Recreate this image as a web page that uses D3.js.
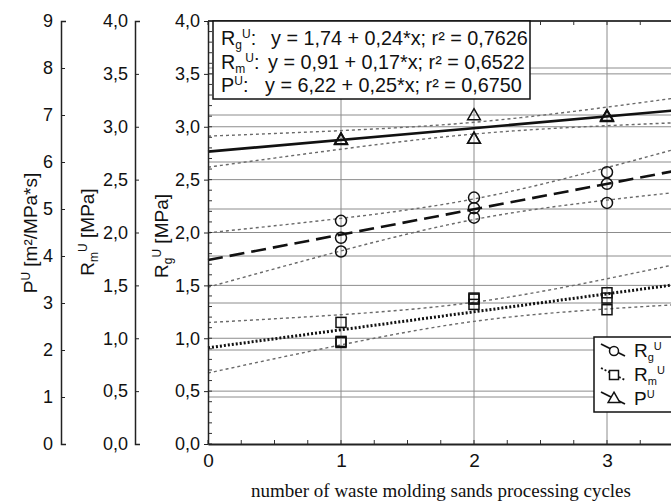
<!DOCTYPE html>
<html>
<head>
<meta charset="utf-8">
<script src="https://cdn.jsdelivr.net/npm/d3@7"></script>
<style>
  body { margin: 0; background: #fff; }
  svg { display: block; overflow: hidden; }
  text { font-family: "Liberation Sans", Arial, sans-serif; fill: #111; }
</style>
</head>
<body>
<script>
// measured points: 3 samples per processing cycle
const cycles = [1, 1, 1, 2, 2, 2, 3, 3, 3];
const rgValues = [2.11, 1.95, 1.82, 2.33, 2.23, 2.14, 2.57, 2.46, 2.28];
const rmValues = [1.15, 0.97, 0.96, 1.38, 1.37, 1.32, 1.43, 1.38, 1.27];
const pValues = [6.47, 6.48, 6.49, 7.0, 6.5, 6.5, 6.96, 6.97, 6.98];

// fitted lines as printed on the chart (Rg, Rm, P)
const intercepts = [1.74, 0.91, 6.22];
const slopes = [0.24, 0.17, 0.25];
const rSquared = ["0,7626", "0,6522", "0,6750"];

const xTicks = [0, 1, 2, 3];
const rTicks = [0, 0.5, 1, 1.5, 2, 2.5, 3, 3.5, 4];
const pTicks = [0, 1, 2, 3, 4, 5, 6, 7, 8, 9];

const width = 671, height = 503;
const plotLeft = 208, plotTop = 21, plotBottom = 444;

const svg = d3.select("body").append("svg")
    .attr("width", width)
    .attr("height", height);

// scales (x runs past the right edge, the picture is cropped there)
const x = d3.scaleLinear().domain([0, 4]).range([plotLeft, plotLeft + 4 * 133]);
const y = d3.scaleLinear().domain([0, 4]).range([plotBottom, plotTop]);
const yP = d3.scaleLinear().domain([0, 9]).range([plotBottom, plotTop]);

const comma = v => d3.format(".1f")(v).replace(".", ",");
const comma2 = v => d3.format(".2f")(v).replace(".", ",");

// grid
const grid = svg.append("g").attr("stroke", "#8c8c8c").attr("stroke-width", 1);
grid.selectAll(".gr").data(rTicks.slice(1)).enter().append("line")
    .attr("x1", plotLeft).attr("x2", width)
    .attr("y1", d => y(d)).attr("y2", d => y(d));
grid.selectAll(".gp").data(pTicks.slice(1, -1)).enter().append("line")
    .attr("x1", plotLeft).attr("x2", width)
    .attr("y1", d => yP(d)).attr("y2", d => yP(d));
grid.selectAll(".gx").data(xTicks.slice(1)).enter().append("line")
    .attr("x1", d => x(d)).attr("x2", d => x(d))
    .attr("y1", plotTop).attr("y2", plotBottom);

// 95% confidence band of the fitted mean
const tCrit = 2.365;
function band(values, b0, b1, sign) {
    const n = values.length;
    const xm = d3.mean(cycles);
    const sxx = d3.sum(cycles, c => (c - xm) * (c - xm));
    const sse = d3.sum(values, (v, i) => Math.pow(v - (b0 + b1 * cycles[i]), 2));
    const s = Math.sqrt(sse / (n - 2));
    return d3.range(0, 4.001, 0.05).map(xx => [xx,
        b0 + b1 * xx + sign * tCrit * s * Math.sqrt(1 / n + (xx - xm) * (xx - xm) / sxx)]);
}

const series = [
    { values: rgValues, scale: y, dash: "15,7", width: 2.6 },
    { values: rmValues, scale: y, dash: "2,2", width: 3 },
    { values: pValues, scale: yP, dash: null, width: 2.6 }
];

const bands = svg.append("g");
series.forEach((s, i) => {
    const ln = d3.line().x(d => x(d[0])).y(d => s.scale(d[1]));
    [1, -1].forEach(sign => {
        bands.append("path")
            .attr("d", ln(band(s.values, intercepts[i], slopes[i], sign)))
            .attr("fill", "none")
            .attr("stroke", "#6a6a6a")
            .attr("stroke-width", 1.4)
            .attr("stroke-dasharray", "3,3");
    });
});

// regression lines
const fitsG = svg.append("g");
series.forEach((s, i) => {
    const ln = d3.line().x(d => x(d)).y(d => s.scale(intercepts[i] + slopes[i] * d));
    fitsG.append("path")
        .attr("d", ln([0, 4]))
        .attr("fill", "none")
        .attr("stroke", "#111")
        .attr("stroke-width", s.width)
        .attr("stroke-dasharray", s.dash);
});

// markers
const marks = svg.append("g").attr("fill", "none").attr("stroke", "#111").attr("stroke-width", 1.5);
marks.selectAll(".c").data(rgValues).enter().append("circle")
    .attr("cx", (d, i) => x(cycles[i])).attr("cy", d => y(d)).attr("r", 5.5);
marks.selectAll(".s").data(rmValues).enter().append("rect")
    .attr("x", (d, i) => x(cycles[i]) - 5).attr("y", d => y(d) - 5)
    .attr("width", 10).attr("height", 10);
const tri = d3.symbol().type(d3.symbolTriangle).size(70);
marks.selectAll(".t").data(pValues).enter().append("path")
    .attr("d", tri)
    .attr("transform", (d, i) => `translate(${x(cycles[i])},${yP(d) + 1})`);

// frame top / bottom with minor ticks
const minorX = d3.range(0, 4.01, 0.25);
svg.append("line").attr("x1", plotLeft).attr("x2", width).attr("y1", plotTop).attr("y2", plotTop)
    .attr("stroke", "#111").attr("stroke-width", 1.5);
svg.append("g").selectAll("line").data(minorX).enter().append("line")
    .attr("x1", d => x(d)).attr("x2", d => x(d))
    .attr("y1", plotBottom).attr("y2", plotBottom - 4)
    .attr("stroke", "#333");
svg.append("g").selectAll("line").data(minorX).enter().append("line")
    .attr("x1", d => x(d)).attr("x2", d => x(d))
    .attr("y1", plotTop).attr("y2", plotTop + 4)
    .attr("stroke", "#333");
svg.append("g").selectAll("line").data(d3.range(0, 4.001, 0.1)).enter().append("line")
    .attr("x1", plotLeft).attr("x2", plotLeft + 4)
    .attr("y1", d => y(d)).attr("y2", d => y(d))
    .attr("stroke", "#333");

// axes
const xAxis = svg.append("g")
    .attr("transform", `translate(0,${plotBottom})`)
    .call(d3.axisBottom(x).tickValues(xTicks).tickSize(0).tickPadding(10).tickFormat(d3.format("d")));
const yAxis = svg.append("g")
    .attr("transform", `translate(${plotLeft},0)`)
    .call(d3.axisLeft(y).tickValues(rTicks).tickSizeInner(4).tickSizeOuter(0).tickPadding(4).tickFormat(comma));
const rmAxis = svg.append("g")
    .attr("transform", "translate(135,0)")
    .call(d3.axisLeft(y).tickValues(rTicks).tickSizeInner(-4).tickSizeOuter(-5).tickPadding(7).tickFormat(comma));
const pAxis = svg.append("g")
    .attr("transform", "translate(61,0)")
    .call(d3.axisLeft(yP).tickValues(pTicks).tickSizeInner(-4).tickSizeOuter(-5).tickPadding(8).tickFormat(d3.format("d")));

[xAxis, yAxis, rmAxis, pAxis].forEach(g => {
    g.selectAll("path").attr("stroke", "#222").attr("stroke-width", 1.5);
    g.selectAll("line").attr("stroke", "#222");
    g.selectAll("text").attr("font-size", 18).attr("fill", "#111");
});
xAxis.select(".domain").attr("stroke-width", 1.8);
xAxis.selectAll("text").attr("font-size", 19);

// rich text with sub/superscripts
function rich(t, parts, small) {
    let shift = 0;
    parts.forEach(([str, kind]) => {
        const target = kind === "sub" ? 4 : kind === "sup" ? -7 : 0;
        t.append("tspan")
            .attr("dy", target - shift)
            .attr("font-size", kind ? (small || 12) : null)
            .text(str);
        shift = target;
    });
    if (shift !== 0) t.append("tspan").attr("dy", -shift).text("");
}

// axis titles
function yTitle(cx, cy, parts) {
    const t = svg.append("text")
        .attr("transform", `translate(${cx},${cy}) rotate(-90)`)
        .attr("text-anchor", "middle")
        .attr("font-size", 19);
    rich(t, parts);
}
yTitle(37, 233, [["P"], ["U", "sup"], [" [m²/MPa*s]"]]);
yTitle(94, 232, [["R"], ["m", "sub"], ["U", "sup"], [" [MPa]"]]);
yTitle(168, 236, [["R"], ["g", "sub"], ["U", "sup"], [" [MPa]"]]);

svg.append("text")
    .attr("x", 441).attr("y", 497)
    .attr("text-anchor", "middle")
    .style("font-family", "'Liberation Serif', 'Times New Roman', serif")
    .attr("font-size", 19)
    .text("number of waste molding sands processing cycles");

// equation box
const names = [[["R"], ["g", "sub"], ["U", "sup"], [":"]],
               [["R"], ["m", "sub"], ["U", "sup"], [":"]],
               [["P"], ["U", "sup"], [":"]]];
const eqBox = svg.append("g");
eqBox.append("rect")
    .attr("x", 213).attr("y", plotTop).attr("width", 317).attr("height", 78)
    .attr("fill", "#fff").attr("stroke", "#111").attr("stroke-width", 1.5);
names.forEach((n, i) => {
    const yy = 45 + i * 23.5;
    rich(eqBox.append("text").attr("x", 221).attr("y", yy).attr("font-size", 19.8), n);
    eqBox.append("text")
        .attr("x", 271 - i * 3).attr("y", yy)
        .attr("font-size", 19.8)
        .text(`y = ${comma2(intercepts[i])} + ${comma2(slopes[i])}*x; r² = ${rSquared[i]}`);
});

// symbol legend
const lg = svg.append("g");
lg.append("rect")
    .attr("x", 594).attr("y", 337).attr("width", 110).attr("height", 75)
    .attr("fill", "#fff").attr("stroke", "#111").attr("stroke-width", 1.5);
const legendNames = [[["R"], ["g", "sub"], ["U", "sup"]],
                     [["R"], ["m", "sub"], ["U", "sup"]],
                     [["P"], ["U", "sup"]]];
const legendDash = ["none", "2,2", "none"];
legendNames.forEach((n, i) => {
    const yy = 351 + i * 24;
    lg.append("line")
        .attr("x1", 601).attr("y1", yy - 7).attr("x2", 625).attr("y2", yy + 5)
        .attr("stroke", "#111").attr("stroke-width", 1.8)
        .attr("stroke-dasharray", legendDash[i]);
    const mx = 614, my = yy;
    if (i === 0) lg.append("circle").attr("cx", mx).attr("cy", my).attr("r", 4.5)
        .attr("fill", "#fff").attr("stroke", "#111").attr("stroke-width", 1.5);
    if (i === 1) lg.append("rect").attr("x", mx - 4.5).attr("y", my - 4.5).attr("width", 9).attr("height", 9)
        .attr("fill", "#fff").attr("stroke", "#111").attr("stroke-width", 1.5);
    if (i === 2) lg.append("path").attr("d", d3.symbol().type(d3.symbolTriangle).size(60))
        .attr("transform", `translate(${mx},${my})`)
        .attr("fill", "#fff").attr("stroke", "#111").attr("stroke-width", 1.5);
    rich(lg.append("text").attr("x", 634).attr("y", yy + 6).attr("font-size", 19), n, 11);
});
</script>
</body>
</html>
